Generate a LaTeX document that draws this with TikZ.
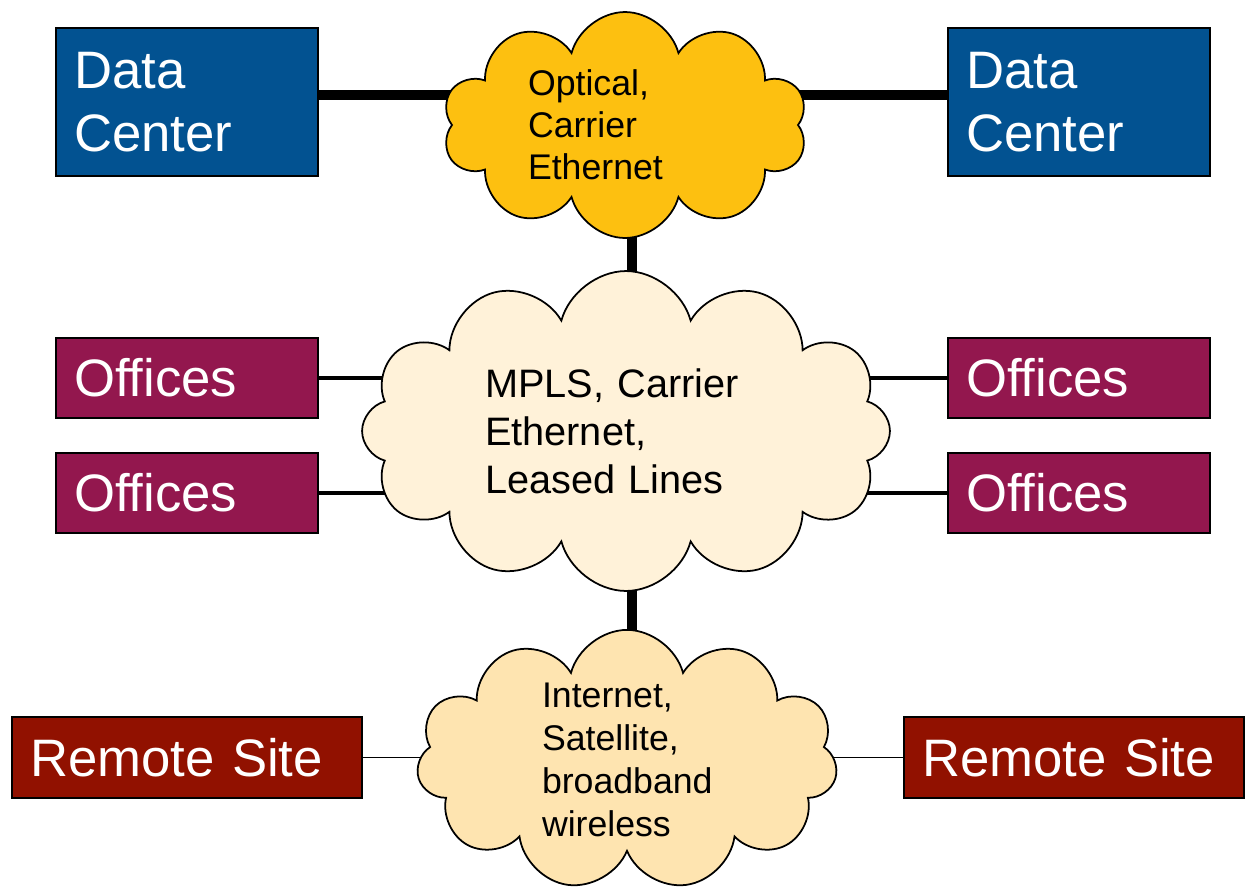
\documentclass[tikz,border=0pt]{standalone}
\usepackage{fontspec}
\setmainfont{Liberation Sans}
\usepackage{tikz}
\usetikzlibrary{shapes.symbols,backgrounds}
\definecolor{dcblue}{HTML}{025291}
\definecolor{officered}{HTML}{93174E}
\definecolor{remotered}{HTML}{911100}
\definecolor{optgold}{HTML}{FDC010}
\definecolor{mplscream}{HTML}{FFF2D9}
\definecolor{netsand}{HTML}{FEE4B0}

\begin{document}
\begin{tikzpicture}[x=0.02cm,y=-0.02cm]
        \tikzset{boite/.style={draw,line width=1pt,text=white,align=left,inner xsep=0.36cm,
                font=\fontsize{30}{36}\selectfont},
                nuage/.style={draw,line width=1pt,cloud,cloud ignores aspect,inner sep=0pt,align=left},
                lien/.style={line width=5.7pt},
                lienmoyen/.style={line width=2.3pt},
                lienfin/.style={line width=1.1pt}}
        \useasboundingbox (0,0) rectangle (1246,890);
        \node[boite,fill=dcblue,text width=4.52cm,minimum height=2.96cm] (DCL) at (187,102) {Data\\Center};
        \node[boite,fill=dcblue,text width=4.52cm,minimum height=2.96cm] (DCR) at (1079,102) {Data\\Center};
        \node[boite,fill=officered,text width=4.52cm,minimum height=1.6cm] (OL1) at (187,378) {Offices};
        \node[boite,fill=officered,text width=4.52cm,minimum height=1.6cm] (OL2) at (187,493) {Offices};
        \node[boite,fill=officered,text width=4.52cm,minimum height=1.6cm] (OR1) at (1079,378) {Offices};
        \node[boite,fill=officered,text width=4.52cm,minimum height=1.6cm] (OR2) at (1079,493) {Offices};
        \node[boite,fill=remotered,text width=6.28cm,minimum height=1.62cm] (RSL) at (187,757.5) {Remote Site};
        \node[boite,fill=remotered,text width=6.08cm,minimum height=1.62cm] (RSR) at (1074,757.5) {Remote Site};
        \node[nuage,fill=optgold,cloud puffs=10,minimum width=7.3cm,minimum height=4.52cm,text width=3.88cm,
                font=\fontsize{20.3}{24}\selectfont] (OPT) at (625,125) {Optical,\\Carrier\\Ethernet};
        \node[nuage,fill=mplscream,cloud puffs=12,minimum width=10.56cm,minimum height=6.4cm,text width=5.64cm,
                font=\fontsize{22.6}{27.4}\selectfont] (MPLS) at (626,431) {MPLS, Carrier\\Ethernet,\\Leased Lines};
        \node[nuage,fill=netsand,cloud puffs=11,minimum width=8.42cm,minimum height=5.12cm,text width=3.4cm,
                font=\fontsize{20.3}{24.4}\selectfont] (NET) at (627,760) {Internet,\\Satellite,\\broadband\\wireless};
        \begin{scope}[on background layer]
        \draw[lien] ([yshift=0.14cm]DCL.east) -- ([yshift=0.14cm]DCL.east -| OPT.center);
        \draw[lien] ([yshift=0.14cm]DCR.west) -- ([yshift=0.14cm]DCR.west -| OPT.center);
        \draw[lien] ([xshift=0.14cm]OPT.center) -- ([xshift=0.14cm]OPT.center |- MPLS.center);
        \draw[lien] ([xshift=0.12cm]MPLS.center) -- ([xshift=0.12cm]MPLS.center |- NET.center);
        \draw[lienmoyen] (OL1.east) -- (OL1.east -| MPLS.center);
        \draw[lienmoyen] (OL2.east) -- (OL2.east -| MPLS.center);
        \draw[lienmoyen] (OR1.west) -- (OR1.west -| MPLS.center);
        \draw[lienmoyen] (OR2.west) -- (OR2.west -| MPLS.center);
        \draw[lienfin] (RSL.east) -- (RSL.east -| NET.center);
        \draw[lienfin] (RSR.west) -- (RSR.west -| NET.center);
        \end{scope}
\end{tikzpicture}
\end{document}
